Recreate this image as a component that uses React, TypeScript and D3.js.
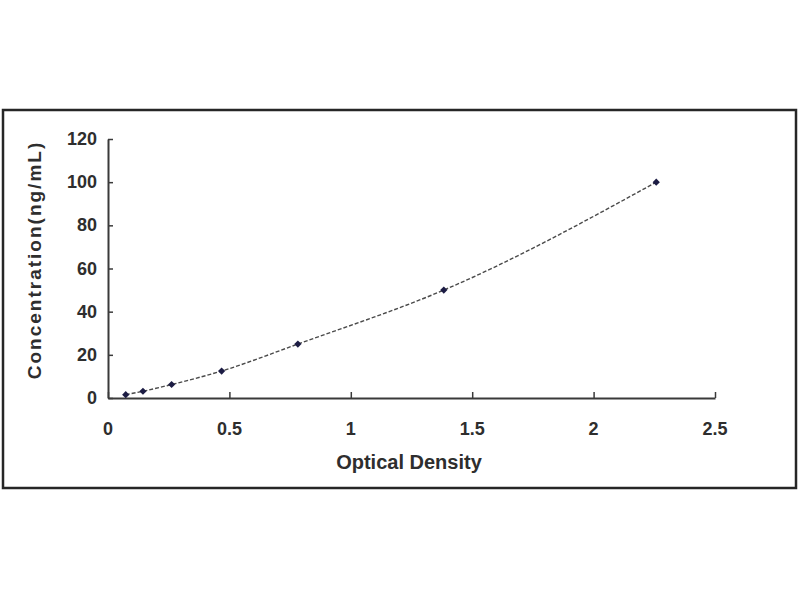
import * as d3 from "d3";
import { useEffect, useRef } from "react";

const odValues = [0.073, 0.144, 0.262, 0.468, 0.782, 1.383, 2.258];
const concValues = [1.56, 3.13, 6.25, 12.5, 25, 50, 100];
const xTicks = [0, 0.5, 1, 1.5, 2, 2.5];
const yTicks = [0, 20, 40, 60, 80, 100, 120];
const xTitle = "Optical Density";
const yTitle = "Concentration(ng/mL)";

export default function App() {
    const ref = useRef<SVGSVGElement | null>(null);

    useEffect(() => {
        if (!ref.current) return;
        const svg = d3.select(ref.current);
        svg.selectAll("*").remove();

        const width = 800;
        const height = 600;
        const plot = { left: 108, right: 715, top: 139, bottom: 398 };
        const font = "Arial, 'Liberation Sans', sans-serif";
        const textColor = "#2e2e2e";
        const axisColor = "#3a3a3a";

        svg.attr("width", width).attr("height", height);

        svg.append("rect")
            .attr("width", width)
            .attr("height", height)
            .attr("fill", "#fff");

        // outer frame
        svg.append("rect")
            .attr("x", 3)
            .attr("y", 110)
            .attr("width", 793)
            .attr("height", 378)
            .attr("fill", "#fff")
            .attr("stroke", "#262626")
            .attr("stroke-width", 2.5);

        const xScale = d3.scaleLinear().domain([0, 2.5]).range([plot.left, plot.right]);
        const yScale = d3.scaleLinear().domain([0, 120]).range([plot.bottom, plot.top]);

        // x axis, ticks pointing inward
        const xAxis = svg.append("g")
            .attr("transform", `translate(0,${plot.bottom})`)
            .call(d3.axisTop(xScale).tickValues(xTicks).tickSize(6).tickFormat(() => "").tickSizeOuter(0));
        xAxis.select(".domain").attr("stroke", axisColor).attr("stroke-width", 2);
        xAxis.selectAll(".tick line").attr("stroke", axisColor).attr("stroke-width", 1.5);

        // y axis, ticks pointing inward
        const yAxis = svg.append("g")
            .attr("transform", `translate(${plot.left},0)`)
            .call(d3.axisRight(yScale).tickValues(yTicks).tickSize(5).tickFormat(() => "").tickSizeOuter(0));
        yAxis.select(".domain").attr("stroke", axisColor).attr("stroke-width", 2);
        yAxis.selectAll(".tick line").attr("stroke", axisColor).attr("stroke-width", 1.5);

        // tick labels
        svg.append("g")
            .selectAll("text")
            .data(xTicks)
            .join("text")
            .attr("x", (d) => xScale(d))
            .attr("y", 435)
            .attr("text-anchor", "middle")
            .attr("font-family", font)
            .attr("font-weight", "bold")
            .attr("font-size", 18)
            .attr("fill", textColor)
            .text((d) => String(d));

        svg.append("g")
            .selectAll("text")
            .data(yTicks)
            .join("text")
            .attr("x", 97)
            .attr("y", (d) => yScale(d) + 6)
            .attr("text-anchor", "end")
            .attr("font-family", font)
            .attr("font-weight", "bold")
            .attr("font-size", 18)
            .attr("fill", textColor)
            .text((d) => String(d));

        // titles
        svg.append("text")
            .attr("x", 409)
            .attr("y", 469)
            .attr("text-anchor", "middle")
            .attr("font-family", font)
            .attr("font-weight", "bold")
            .attr("font-size", 20)
            .attr("fill", textColor)
            .text(xTitle);

        svg.append("text")
            .attr("transform", "translate(41,260) rotate(-90)")
            .attr("text-anchor", "middle")
            .attr("font-family", font)
            .attr("font-weight", "bold")
            .attr("font-size", 19)
            .attr("letter-spacing", 2)
            .attr("fill", textColor)
            .text(yTitle);

        const points = odValues.map((x, i) => ({ x, y: concValues[i] }));

        // fitted curve
        const line = d3
            .line<{ x: number; y: number }>()
            .x((d) => xScale(d.x))
            .y((d) => yScale(d.y))
            .curve(d3.curveMonotoneX);

        svg.append("path")
            .datum(points)
            .attr("fill", "none")
            .attr("stroke", "#4a4a4a")
            .attr("stroke-width", 1.4)
            .attr("stroke-dasharray", "4,2")
            .attr("d", line);

        // diamond markers (square turned 45°)
        svg.append("g")
            .selectAll("path")
            .data(points)
            .join("path")
            .attr("transform", (d) => `translate(${xScale(d.x)},${yScale(d.y)}) rotate(45)`)
            .attr("d", d3.symbol(d3.symbolSquare, 26)())
            .attr("fill", "#1c1c44");
    }, []);

    return <svg ref={ref} style={{ position: "absolute", left: 0, top: 0 }}></svg>;
}
